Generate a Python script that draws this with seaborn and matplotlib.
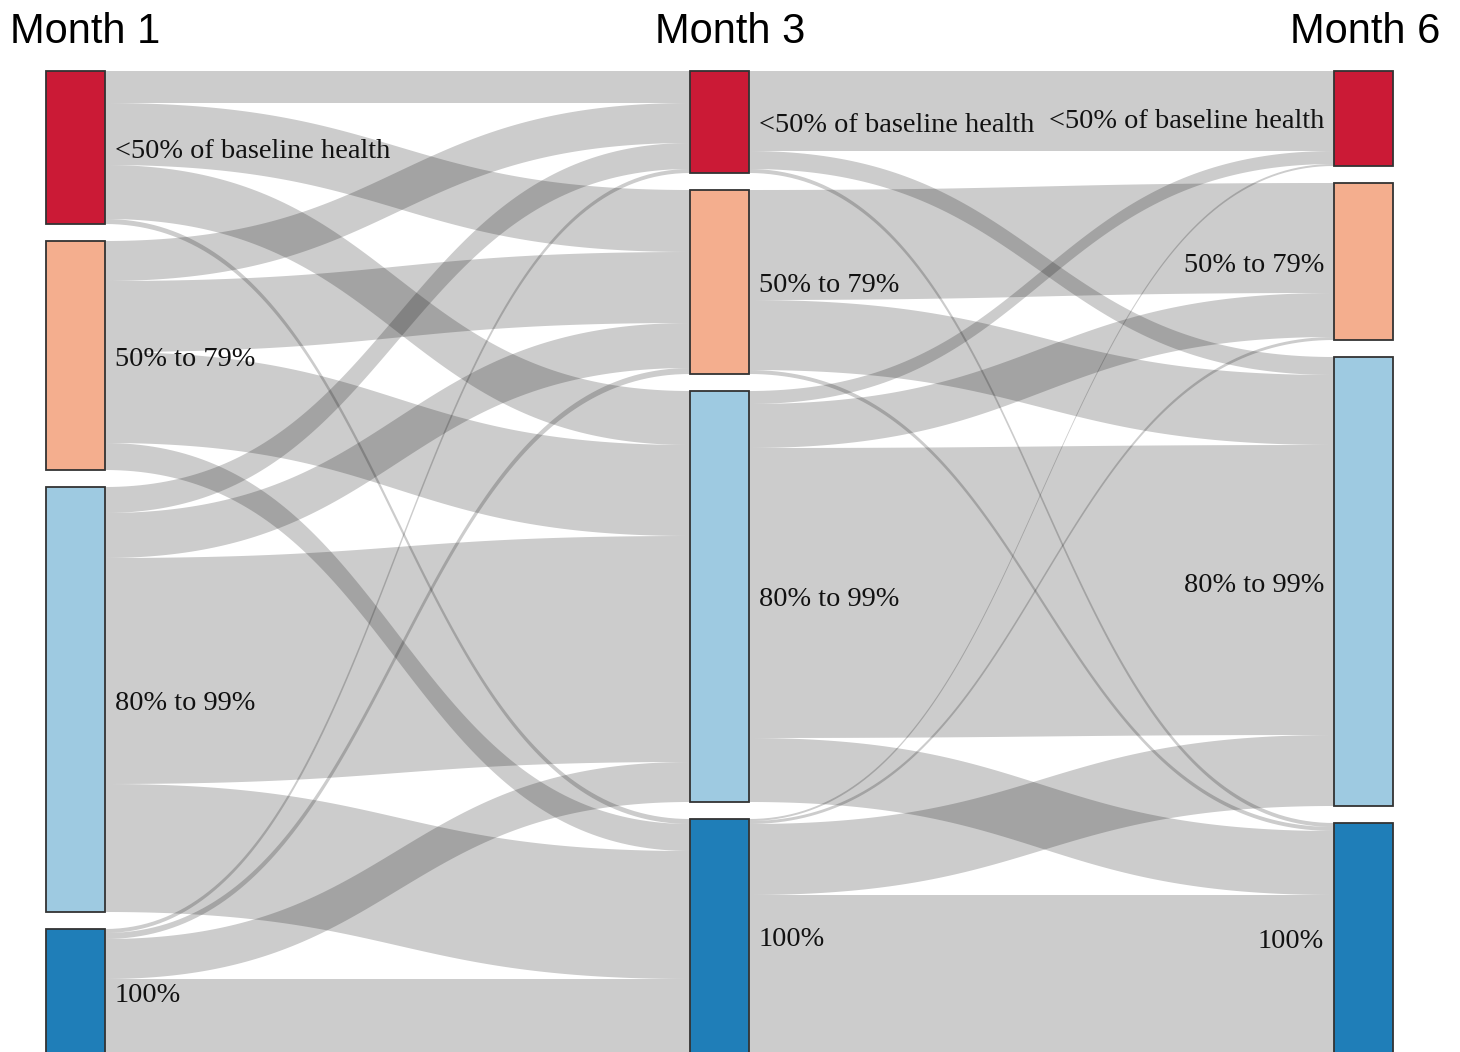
import matplotlib
matplotlib.use('Agg')
import matplotlib.pyplot as plt
import seaborn as sns
import numpy as np
from matplotlib.patches import Rectangle

months = ['Month 1', 'Month 3', 'Month 6']
categories = ['<50% of baseline health', '50% to 79%', '80% to 99%', '100%']

# patients moving between health categories (rows = from, cols = to)
m1_to_m3 = [
    [32, 62, 54, 5],
    [40, 71, 91, 27],
    [26, 45, 226, 128],
    [4, 6, 40, 75],
]
m3_to_m6 = [
    [80, 0, 18, 4],
    [0, 110, 70, 4],
    [13, 44, 290, 64],
    [2, 3, 71, 159],
]

node_colors = sns.color_palette(['#cb1a36', '#f4ae8e', '#9ecae1', '#1f7eb8'])

# layout (pixels)
col_x = [46, 690, 1334]
node_w = 59
pad = 17
top = 71

sns.set_style('white')

flows = [np.array(m1_to_m3), np.array(m3_to_m6)]
sizes = [flows[0].sum(axis=1), flows[0].sum(axis=0), flows[1].sum(axis=0)]

node_tops = []
for s in sizes:
    tops = top + np.concatenate([[0], np.cumsum(s)[:-1]]) + pad * np.arange(len(s))
    node_tops.append(tops)


def band(ax, x0, x1, y0a, y0b, y1a, y1b):
    t = np.linspace(0, 1, 120)
    xm = (x0 + x1) / 2
    x = (1 - t)**3 * x0 + 3 * (1 - t)**2 * t * xm + 3 * (1 - t) * t**2 * xm + t**3 * x1
    s = 3 * t**2 - 2 * t**3
    up = y0a + (y1a - y0a) * s
    lo = y0b + (y1b - y0b) * s
    ax.fill(np.r_[x, x[::-1]], np.r_[up, lo[::-1]], color='black', alpha=0.2, lw=0)


fig = plt.figure(figsize=(14.6, 10.52), dpi=100)
ax = fig.add_axes([0, 0, 1, 1])
ax.set_xlim(0, 1460)
ax.set_ylim(1052, 0)
ax.axis('off')

# links
for c, F in enumerate(flows):
    out_off = node_tops[c].astype(float).copy()
    in_off = node_tops[c + 1].astype(float).copy()
    x0 = col_x[c] + node_w
    x1 = col_x[c + 1]
    for i in range(F.shape[0]):
        for j in range(F.shape[1]):
            v = F[i, j]
            if v <= 0:
                continue
            band(ax, x0, x1, out_off[i], out_off[i] + v, in_off[j], in_off[j] + v)
            out_off[i] += v
            in_off[j] += v

# nodes and labels
for c in range(3):
    for k, cat in enumerate(categories):
        y0 = node_tops[c][k]
        h = sizes[c][k]
        ax.add_patch(Rectangle((col_x[c], y0), node_w, h, facecolor=node_colors[k],
                               edgecolor='#333333', lw=1.3, zorder=3))
        if c < 2:
            ax.text(col_x[c] + node_w + 10, y0 + h / 2 + 3.5, cat, ha='left', va='center',
                    fontsize=20.4, family='Liberation Serif', color='#111111', zorder=4)
        else:
            ax.text(col_x[c] - 10, y0 + h / 2 + 3.5, cat, ha='right', va='center',
                    fontsize=20.4, family='Liberation Serif', color='#111111', zorder=4)

title_kw = dict(va='center', fontsize=30, family='Liberation Sans', color='black')
ax.text(10, 32, months[0], ha='left', **title_kw)
ax.text(730, 32, months[1], ha='center', **title_kw)
ax.text(1440, 32, months[2], ha='right', **title_kw)

plt.savefig('out.png', dpi=100)
